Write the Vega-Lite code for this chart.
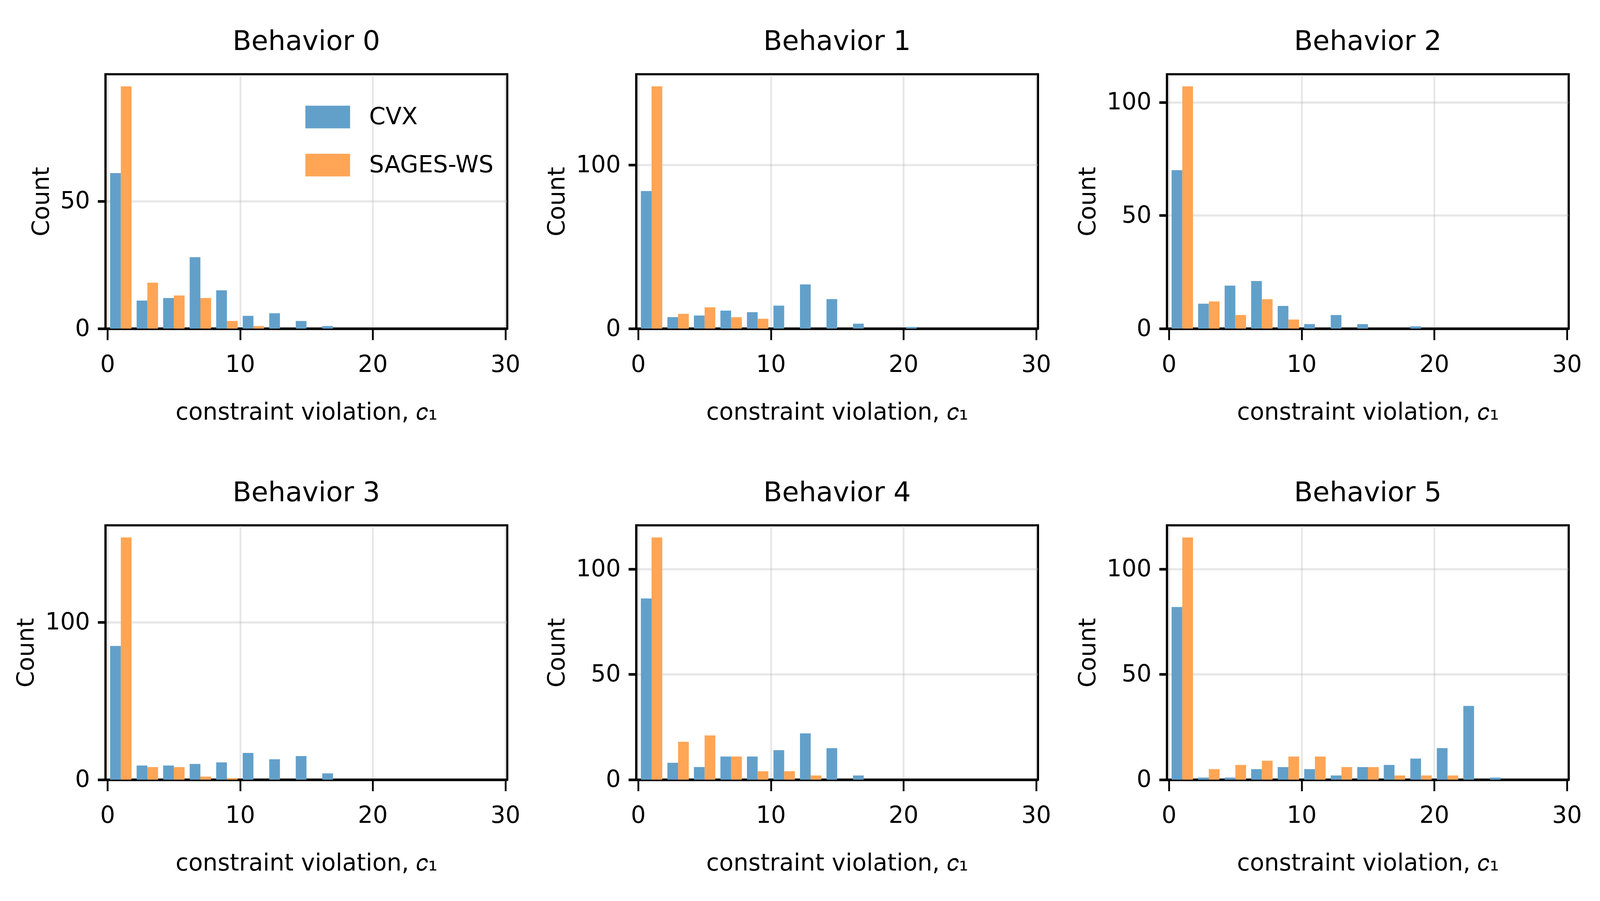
{
  "$schema": "https://vega.github.io/schema/vega-lite/v6.json",
  "background": "white",
  "padding": {"left": 35, "top": 69, "right": 5, "bottom": 5},
  "datasets": {
    "h": [
      {"b": 0, "m": "CVX", "lo": 0, "n": 61}, {"b": 0, "m": "CVX", "lo": 2, "n": 11}, {"b": 0, "m": "CVX", "lo": 4, "n": 12}, {"b": 0, "m": "CVX", "lo": 6, "n": 28}, {"b": 0, "m": "CVX", "lo": 8, "n": 15}, {"b": 0, "m": "CVX", "lo": 10, "n": 5}, {"b": 0, "m": "CVX", "lo": 12, "n": 6}, {"b": 0, "m": "CVX", "lo": 14, "n": 3}, {"b": 0, "m": "CVX", "lo": 16, "n": 1},
      {"b": 0, "m": "SAGES-WS", "lo": 0, "n": 95}, {"b": 0, "m": "SAGES-WS", "lo": 2, "n": 18}, {"b": 0, "m": "SAGES-WS", "lo": 4, "n": 13}, {"b": 0, "m": "SAGES-WS", "lo": 6, "n": 12}, {"b": 0, "m": "SAGES-WS", "lo": 8, "n": 3}, {"b": 0, "m": "SAGES-WS", "lo": 10, "n": 1},
      {"b": 1, "m": "CVX", "lo": 0, "n": 84}, {"b": 1, "m": "CVX", "lo": 2, "n": 7}, {"b": 1, "m": "CVX", "lo": 4, "n": 8}, {"b": 1, "m": "CVX", "lo": 6, "n": 11}, {"b": 1, "m": "CVX", "lo": 8, "n": 10}, {"b": 1, "m": "CVX", "lo": 10, "n": 14}, {"b": 1, "m": "CVX", "lo": 12, "n": 27}, {"b": 1, "m": "CVX", "lo": 14, "n": 18}, {"b": 1, "m": "CVX", "lo": 16, "n": 3}, {"b": 1, "m": "CVX", "lo": 20, "n": 1},
      {"b": 1, "m": "SAGES-WS", "lo": 0, "n": 148}, {"b": 1, "m": "SAGES-WS", "lo": 2, "n": 9}, {"b": 1, "m": "SAGES-WS", "lo": 4, "n": 13}, {"b": 1, "m": "SAGES-WS", "lo": 6, "n": 7}, {"b": 1, "m": "SAGES-WS", "lo": 8, "n": 6},
      {"b": 2, "m": "CVX", "lo": 0, "n": 70}, {"b": 2, "m": "CVX", "lo": 2, "n": 11}, {"b": 2, "m": "CVX", "lo": 4, "n": 19}, {"b": 2, "m": "CVX", "lo": 6, "n": 21}, {"b": 2, "m": "CVX", "lo": 8, "n": 10}, {"b": 2, "m": "CVX", "lo": 10, "n": 2}, {"b": 2, "m": "CVX", "lo": 12, "n": 6}, {"b": 2, "m": "CVX", "lo": 14, "n": 2}, {"b": 2, "m": "CVX", "lo": 18, "n": 1},
      {"b": 2, "m": "SAGES-WS", "lo": 0, "n": 107}, {"b": 2, "m": "SAGES-WS", "lo": 2, "n": 12}, {"b": 2, "m": "SAGES-WS", "lo": 4, "n": 6}, {"b": 2, "m": "SAGES-WS", "lo": 6, "n": 13}, {"b": 2, "m": "SAGES-WS", "lo": 8, "n": 4},
      {"b": 3, "m": "CVX", "lo": 0, "n": 85}, {"b": 3, "m": "CVX", "lo": 2, "n": 9}, {"b": 3, "m": "CVX", "lo": 4, "n": 9}, {"b": 3, "m": "CVX", "lo": 6, "n": 10}, {"b": 3, "m": "CVX", "lo": 8, "n": 11}, {"b": 3, "m": "CVX", "lo": 10, "n": 17}, {"b": 3, "m": "CVX", "lo": 12, "n": 13}, {"b": 3, "m": "CVX", "lo": 14, "n": 15}, {"b": 3, "m": "CVX", "lo": 16, "n": 4},
      {"b": 3, "m": "SAGES-WS", "lo": 0, "n": 154}, {"b": 3, "m": "SAGES-WS", "lo": 2, "n": 8}, {"b": 3, "m": "SAGES-WS", "lo": 4, "n": 8}, {"b": 3, "m": "SAGES-WS", "lo": 6, "n": 2}, {"b": 3, "m": "SAGES-WS", "lo": 8, "n": 1},
      {"b": 4, "m": "CVX", "lo": 0, "n": 86}, {"b": 4, "m": "CVX", "lo": 2, "n": 8}, {"b": 4, "m": "CVX", "lo": 4, "n": 6}, {"b": 4, "m": "CVX", "lo": 6, "n": 11}, {"b": 4, "m": "CVX", "lo": 8, "n": 11}, {"b": 4, "m": "CVX", "lo": 10, "n": 14}, {"b": 4, "m": "CVX", "lo": 12, "n": 22}, {"b": 4, "m": "CVX", "lo": 14, "n": 15}, {"b": 4, "m": "CVX", "lo": 16, "n": 2},
      {"b": 4, "m": "SAGES-WS", "lo": 0, "n": 115}, {"b": 4, "m": "SAGES-WS", "lo": 2, "n": 18}, {"b": 4, "m": "SAGES-WS", "lo": 4, "n": 21}, {"b": 4, "m": "SAGES-WS", "lo": 6, "n": 11}, {"b": 4, "m": "SAGES-WS", "lo": 8, "n": 4}, {"b": 4, "m": "SAGES-WS", "lo": 10, "n": 4}, {"b": 4, "m": "SAGES-WS", "lo": 12, "n": 2},
      {"b": 5, "m": "CVX", "lo": 0, "n": 82}, {"b": 5, "m": "CVX", "lo": 2, "n": 1}, {"b": 5, "m": "CVX", "lo": 4, "n": 1}, {"b": 5, "m": "CVX", "lo": 6, "n": 5}, {"b": 5, "m": "CVX", "lo": 8, "n": 6}, {"b": 5, "m": "CVX", "lo": 10, "n": 5}, {"b": 5, "m": "CVX", "lo": 12, "n": 2}, {"b": 5, "m": "CVX", "lo": 14, "n": 6}, {"b": 5, "m": "CVX", "lo": 16, "n": 7}, {"b": 5, "m": "CVX", "lo": 18, "n": 10}, {"b": 5, "m": "CVX", "lo": 20, "n": 15}, {"b": 5, "m": "CVX", "lo": 22, "n": 35}, {"b": 5, "m": "CVX", "lo": 24, "n": 1},
      {"b": 5, "m": "SAGES-WS", "lo": 0, "n": 115}, {"b": 5, "m": "SAGES-WS", "lo": 2, "n": 5}, {"b": 5, "m": "SAGES-WS", "lo": 4, "n": 7}, {"b": 5, "m": "SAGES-WS", "lo": 6, "n": 9}, {"b": 5, "m": "SAGES-WS", "lo": 8, "n": 11}, {"b": 5, "m": "SAGES-WS", "lo": 10, "n": 11}, {"b": 5, "m": "SAGES-WS", "lo": 12, "n": 6}, {"b": 5, "m": "SAGES-WS", "lo": 14, "n": 6}, {"b": 5, "m": "SAGES-WS", "lo": 16, "n": 2}, {"b": 5, "m": "SAGES-WS", "lo": 18, "n": 2}, {"b": 5, "m": "SAGES-WS", "lo": 20, "n": 2}
    ]
  },
  "data": {"name": "h"},
  "columns": 3,
  "spacing": {"row": 503.5, "column": 329.7},
  "bounds": "flush",
  "resolve": {"scale": {"y": "independent"}},
  "concat": [
    {
      "title": "Behavior 0", "width": 1028.5, "height": 651,
      "transform": [{"filter": "datum.b == 0"}],
      "encoding": {
        "x": {"field": "lo", "type": "quantitative", "scale": {"domain": [0, 30], "nice": false, "zero": false}, "axis": {"values": [0, 10, 20, 30], "title": "constraint violation, 𝑐₁"}},
        "y": {"field": "n", "type": "quantitative", "scale": {"domain": [0, 99.75], "nice": false}, "axis": {"values": [0, 50], "title": "Count"}},
        "color": {"field": "m", "type": "nominal", "scale": {"domain": ["CVX", "SAGES-WS"], "range": ["#62a0ca", "#ffa556"]}}
      },
      "layer": [
        {"transform": [{"filter": "datum.m == 'CVX'"}], "mark": {"type": "bar", "width": 27.43, "xOffset": 20.57}},
        {"transform": [{"filter": "datum.m == 'SAGES-WS'"}], "mark": {"type": "bar", "width": 27.43, "xOffset": 48.0}}
      ]
    },
    {
      "title": "Behavior 1", "width": 1028.5, "height": 651,
      "transform": [{"filter": "datum.b == 1"}],
      "encoding": {
        "x": {"field": "lo", "type": "quantitative", "scale": {"domain": [0, 30], "nice": false, "zero": false}, "axis": {"values": [0, 10, 20, 30], "title": "constraint violation, 𝑐₁"}},
        "y": {"field": "n", "type": "quantitative", "scale": {"domain": [0, 155.4], "nice": false}, "axis": {"values": [0, 100], "title": "Count"}},
        "color": {"field": "m", "type": "nominal", "scale": {"domain": ["CVX", "SAGES-WS"], "range": ["#62a0ca", "#ffa556"]}}
      },
      "layer": [
        {"transform": [{"filter": "datum.m == 'CVX'"}], "mark": {"type": "bar", "width": 27.43, "xOffset": 20.57}},
        {"transform": [{"filter": "datum.m == 'SAGES-WS'"}], "mark": {"type": "bar", "width": 27.43, "xOffset": 48.0}}
      ]
    },
    {
      "title": "Behavior 2", "width": 1028.5, "height": 651,
      "transform": [{"filter": "datum.b == 2"}],
      "encoding": {
        "x": {"field": "lo", "type": "quantitative", "scale": {"domain": [0, 30], "nice": false, "zero": false}, "axis": {"values": [0, 10, 20, 30], "title": "constraint violation, 𝑐₁"}},
        "y": {"field": "n", "type": "quantitative", "scale": {"domain": [0, 112.35], "nice": false}, "axis": {"values": [0, 50, 100], "title": "Count"}},
        "color": {"field": "m", "type": "nominal", "scale": {"domain": ["CVX", "SAGES-WS"], "range": ["#62a0ca", "#ffa556"]}}
      },
      "layer": [
        {"transform": [{"filter": "datum.m == 'CVX'"}], "mark": {"type": "bar", "width": 27.43, "xOffset": 20.57}},
        {"transform": [{"filter": "datum.m == 'SAGES-WS'"}], "mark": {"type": "bar", "width": 27.43, "xOffset": 48.0}}
      ]
    },
    {
      "title": "Behavior 3", "width": 1028.5, "height": 651,
      "transform": [{"filter": "datum.b == 3"}],
      "encoding": {
        "x": {"field": "lo", "type": "quantitative", "scale": {"domain": [0, 30], "nice": false, "zero": false}, "axis": {"values": [0, 10, 20, 30], "title": "constraint violation, 𝑐₁"}},
        "y": {"field": "n", "type": "quantitative", "scale": {"domain": [0, 161.7], "nice": false}, "axis": {"values": [0, 100], "title": "Count"}},
        "color": {"field": "m", "type": "nominal", "scale": {"domain": ["CVX", "SAGES-WS"], "range": ["#62a0ca", "#ffa556"]}}
      },
      "layer": [
        {"transform": [{"filter": "datum.m == 'CVX'"}], "mark": {"type": "bar", "width": 27.43, "xOffset": 20.57}},
        {"transform": [{"filter": "datum.m == 'SAGES-WS'"}], "mark": {"type": "bar", "width": 27.43, "xOffset": 48.0}}
      ]
    },
    {
      "title": "Behavior 4", "width": 1028.5, "height": 651,
      "transform": [{"filter": "datum.b == 4"}],
      "encoding": {
        "x": {"field": "lo", "type": "quantitative", "scale": {"domain": [0, 30], "nice": false, "zero": false}, "axis": {"values": [0, 10, 20, 30], "title": "constraint violation, 𝑐₁"}},
        "y": {"field": "n", "type": "quantitative", "scale": {"domain": [0, 120.75], "nice": false}, "axis": {"values": [0, 50, 100], "title": "Count"}},
        "color": {"field": "m", "type": "nominal", "scale": {"domain": ["CVX", "SAGES-WS"], "range": ["#62a0ca", "#ffa556"]}}
      },
      "layer": [
        {"transform": [{"filter": "datum.m == 'CVX'"}], "mark": {"type": "bar", "width": 27.43, "xOffset": 20.57}},
        {"transform": [{"filter": "datum.m == 'SAGES-WS'"}], "mark": {"type": "bar", "width": 27.43, "xOffset": 48.0}}
      ]
    },
    {
      "title": "Behavior 5", "width": 1028.5, "height": 651,
      "transform": [{"filter": "datum.b == 5"}],
      "encoding": {
        "x": {"field": "lo", "type": "quantitative", "scale": {"domain": [0, 30], "nice": false, "zero": false}, "axis": {"values": [0, 10, 20, 30], "title": "constraint violation, 𝑐₁"}},
        "y": {"field": "n", "type": "quantitative", "scale": {"domain": [0, 120.75], "nice": false}, "axis": {"values": [0, 50, 100], "title": "Count"}},
        "color": {"field": "m", "type": "nominal", "scale": {"domain": ["CVX", "SAGES-WS"], "range": ["#62a0ca", "#ffa556"]}}
      },
      "layer": [
        {"transform": [{"filter": "datum.m == 'CVX'"}], "mark": {"type": "bar", "width": 27.43, "xOffset": 20.57}},
        {"transform": [{"filter": "datum.m == 'SAGES-WS'"}], "mark": {"type": "bar", "width": 27.43, "xOffset": 48.0}}
      ]
    }
  ],
  "config": {
    "font": "DejaVu Sans",
    "view": {"stroke": "black", "strokeWidth": 5.6},
    "axis": {
      "domain": true, "domainColor": "black",
      "ticks": true, "tickColor": "black",
      "labelFont": "DejaVu Sans", "labelFontSize": 60, "labelColor": "black",
      "labelFlush": false, "labelOverlap": false, "labelBound": false,
      "titleFont": "DejaVu Sans", "titleFontSize": 60, "titleFontWeight": "normal", "titleColor": "black",
      "grid": true, "gridColor": "#b0b0b0", "gridOpacity": 0.3,
      "zindex": 1
    },
    "axisX": {"domainWidth": 6.67, "tickWidth": 4.6, "tickSize": 29, "gridWidth": 4.6, "labelPadding": 34, "titlePadding": 63},
    "axisY": {"domainWidth": 4.6, "tickWidth": 6.67, "tickSize": 20, "gridWidth": 5.7, "labelPadding": 20, "titlePadding": 16.5},
    "title": {"font": "DejaVu Sans", "fontSize": 70, "fontWeight": "normal", "color": "black", "offset": 47, "anchor": "middle"},
    "legend": {
      "orient": "none", "legendX": 539, "legendY": 79.5, "title": null, "padding": 0,
      "symbolType": "M-1.974,-1H1.974V1H-1.974Z", "symbolSize": 3364, "symbolStrokeWidth": 0,
      "labelFont": "DejaVu Sans", "labelFontSize": 60, "labelColor": "black", "labelOffset": 76, "labelLimit": 0,
      "rowPadding": 63
    }
  }
}
